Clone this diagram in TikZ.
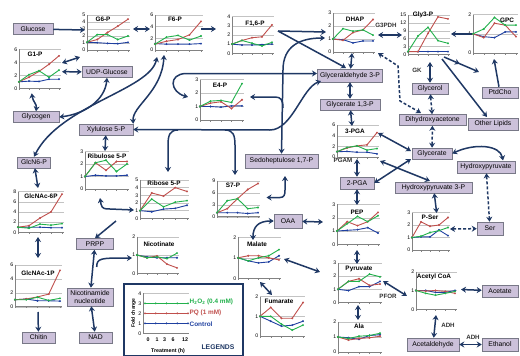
\documentclass[tikz,border=0pt]{standalone}
\usepackage{fontspec}
\setmainfont{Liberation Sans}
\usetikzlibrary{arrows.meta,decorations.markings}
\definecolor{boxf}{RGB}{204,193,218}
\definecolor{boxb}{RGB}{120,120,135}
\definecolor{arr}{RGB}{31,56,100}
\definecolor{cg}{RGB}{34,177,76}
\definecolor{cr}{RGB}{192,80,77}
\definecolor{cb}{RGB}{31,64,160}
\definecolor{gridc}{RGB}{195,195,195}
\definecolor{axc}{RGB}{130,130,130}
\tikzset{
 box/.style={draw=boxb, fill=boxf, line width=0.5pt, font=\fontsize{6.8}{7.4}\selectfont, inner sep=0.5pt, align=center, minimum height=11pt},
 dbl/.style={draw=arr, line width=1.5pt, {Stealth[length=5pt,width=6pt]}-{Stealth[length=5pt,width=6pt]}},
 sgl/.style={draw=arr, line width=1.5pt, -{Stealth[length=5pt,width=6pt]}},
 dsh/.style={dbl, dash pattern=on 3pt off 2pt},
 lab/.style={font=\fontsize{6.2}{6.5}\selectfont\bfseries, text=black!80, inner sep=0.5pt},
 ctitle/.style={font=\fontsize{6.4}{7}\selectfont\bfseries, inner sep=0pt},
 ticklab/.style={font=\fontsize{5.2}{5.5}\selectfont, inner sep=0.6pt, anchor=east, xshift=-1pt},
 ser/.style={line width=0.9pt, mark=*, mark size=0.8pt, mark options={line width=0.3pt}},
 midarr/.style={postaction={decorate, decoration={markings, mark=at position 0.45 with {\arrow{Stealth[length=5pt,width=6pt]}}}}},
}
% x0, y0, dx, k, ymax, step, red, green, blue
\newcommand\mchart[9]{%
 \begin{scope}[shift={(#1,#2)},x=#3pt,y=#4pt]
 \foreach \t in {0,#6,...,#5}{\draw[gridc,line width=0.4pt] (0,\t) -- (4.2,\t); \node[ticklab] at (0,\t) {\t};}
 \draw[axc,line width=0.5pt] (0,#5) -- (0,0) -- (4.2,0);
 \foreach \i in {0,...,4}{\draw[axc,line width=0.4pt] (\i,0) -- ++(0pt,-1.5pt);}
 \draw[ser,cb] plot coordinates {#9};
 \draw[ser,cr] plot coordinates {#7};
 \draw[ser,cg] plot coordinates {#8};
 \end{scope}}
\begin{document}
\begin{tikzpicture}[x=1pt,y=-1pt]
\useasboundingbox (0,0) rectangle (520,356);
\fill[white] (0,0) rectangle (520,356);

% ---------- charts ----------
\mchart{87}{50}{10.25}{7}{5}{1}{(0,1.1)(1,1.5)(2,2.5)(3,3.4)(4,4.4)}{(0,1.1)(1,2.2)(2,2.2)(3,1.5)(4,2.0)}{(0,1.1)(1,1.05)(2,0.95)(3,0.9)(4,1.1)}
\node[ctitle] (tg6p) at (103,19) {G6-P};
\mchart{155}{50}{11.5}{5.83}{6}{2}{(0,1)(1,1.5)(2,1.8)(3,2.6)(4,4.9)}{(0,1)(1,2.2)(2,2.5)(3,1.7)(4,2.4)}{(0,1.1)(1,1)(2,1)(3,1)(4,1.1)}
\node[ctitle] (tf6p) at (175,19) {F6-P};
\mchart{232}{53.3}{10}{9.17}{4}{1}{(0,1)(1,1.4)(2,1.7)(3,1.8)(4,3.1)}{(0,1)(1,1.4)(2,1.1)(3,0.8)(4,1.2)}{(0,1)(1,0.9)(2,0.9)(3,0.95)(4,1)}
\node[ctitle] (tf16) at (255,24) {F1,6-P};
\mchart{333}{52}{10}{13}{3}{1}{(0,1)(1,0.9)(2,1.5)(3,1.7)(4,2.5)}{(0,1)(1,1.8)(2,1.6)(3,1.7)(4,1.3)}{(0,1)(1,0.95)(2,0.7)(3,0.85)(4,0.85)}
\node[ctitle] (tdhap) at (355,19) {DHAP};
\mchart{408}{54.3}{10}{2.62}{15}{3}{(0,1)(1,1)(2,8)(3,14.3)(4,13.5)}{(0,1)(1,7)(2,10.3)(3,5.2)(4,4.2)}{(0,1)(1,1)(2,1)(3,1)(4,1)}
\node[ctitle] (tgly3p) at (423,15) {Gly3-P};
\mchart{473}{53}{10.75}{19.2}{2}{1}{(0,1)(1,0.8)(2,1.55)(3,1.45)(4,0.85)}{(0,1)(1,1.25)(2,1.85)(3,1.45)(4,1.45)}{(0,1)(1,0.85)(2,0.8)(3,1.1)(4,1.1)}
\node[ctitle] (tgpc) at (507,20) {GPC};
\mchart{19}{88.3}{10}{6.5}{6}{2}{(0,1)(1,1.7)(2,2.6)(3,3.7)(4,5)}{(0,1)(1,2.1)(2,2.7)(3,1.7)(4,2.8)}{(0,1)(1,1.1)(2,1.05)(3,1.4)(4,1.4)}
\node[ctitle] (tg1p) at (35,54) {G1-P};
\mchart{200}{120}{10.5}{13.5}{3}{1}{(0,1)(1,1.25)(2,1.35)(3,0.85)(4,1.5)}{(0,1)(1,1.4)(2,1.45)(3,1.3)(4,2.7)}{(0,1)(1,1)(2,0.95)(3,1.05)(4,1.05)}
\node[ctitle] (te4p) at (220,85) {E4-P};
\mchart{85}{189}{10.5}{12.5}{3}{1}{(0,1)(1,2.1)(2,1.5)(3,2.2)(4,2.2)}{(0,1)(1,2.1)(2,2.3)(3,1.4)(4,2.0)}{(0,1)(1,1.1)(2,1.05)(3,1.05)(4,1.1)}
\node[ctitle] (tru5p) at (107,156) {Ribulose 5-P};
\mchart{18}{232.3}{11}{5.1}{8}{2}{(0,1)(1,1.3)(2,2.8)(3,4)(4,7.5)}{(0,1)(1,0.8)(2,1.6)(3,1.4)(4,1.7)}{(0,1)(1,1)(2,1)(3,0.9)(4,0.9)}
\node[ctitle] (tnac6) at (41,196) {GlcNAc-6P};
\mchart{140}{218.3}{11.75}{7.67}{5}{1}{(0,1)(1,3.3)(2,2.9)(3,4)(4,3.5)}{(0,1)(1,2.5)(2,1.5)(3,2.1)(4,2.3)}{(0,1)(1,0.85)(2,1.2)(3,1.3)(4,1.7)}
\node[ctitle] (tr5p) at (164,183) {Ribose 5-P};
\mchart{217}{216.7}{10.25}{4}{9}{3}{(0,1)(1,2)(2,4.5)(3,6.8)(4,8.3)}{(0,1)(1,4)(2,4.5)(3,2)(4,2.3)}{(0,1)(1,1)(2,1)(3,0.8)(4,1)}
\node[ctitle] (ts7p) at (233,185) {S7-P};
\mchart{337}{157}{10}{5.3}{6}{2}{(0,1)(1,1.7)(2,2.1)(3,2.3)(4,4.6)}{(0,1)(1,1.8)(2,2.1)(3,1.3)(4,1.6)}{(0,1)(1,1.05)(2,0.9)(3,0.9)(4,0.6)}
\node[ctitle] (tpga3) at (355,131) {3-PGA};
\mchart{337}{244.3}{10.25}{13.3}{3}{1}{(0,1)(1,1.7)(2,1.4)(3,1.7)(4,2.4)}{(0,1)(1,1.55)(2,2.1)(3,1.7)(4,2.15)}{(0,1)(1,1.05)(2,1.1)(3,1.25)(4,0.85)}
\node[ctitle] (tpep) at (357,212) {PEP};
\mchart{338}{302.5}{10.5}{13.2}{3}{1}{(0,1)(1,1.6)(2,1.8)(3,1.3)(4,1.4)}{(0,1)(1,1.6)(2,1.6)(3,2.15)(4,1.95)}{(0,1)(1,0.9)(2,1.2)(3,1.2)(4,1.6)}
\node[ctitle] (tpyr) at (359,269) {Pyruvate};
\mchart{338}{352}{10.5}{15}{2}{1}{(0,1)(1,0.8)(2,0.9)(3,0.95)(4,1.05)}{(0,1)(1,0.9)(2,1.05)(3,1.1)(4,1.25)}{(0,1)(1,0.95)(2,0.85)(3,1.1)(4,1.15)}
\node[ctitle] (tala) at (359,326) {Ala};
\mchart{412}{250}{9}{12.5}{3}{1}{(0,1)(1,2.25)(2,1.9)(3,2)(4,2.6)}{(0,1)(1,1.1)(2,1.4)(3,1.55)(4,1.8)}{(0,1)(1,1.05)(2,1.05)(3,1.6)(4,1.15)}
\node[ctitle] (tpser) at (430,217) {P-Ser};
\mchart{416}{309.3}{9.75}{18.8}{2}{1}{(0,1)(1,0.97)(2,1)(3,0.95)(4,0.85)}{(0,1)(1,0.85)(2,0.75)(3,0.85)(4,0.95)}{(0,1)(1,1)(2,0.9)(3,0.9)(4,1)}
\node[ctitle] (tacoa) at (434,277) {Acetyl CoA};
\mchart{137}{273.3}{10}{18.3}{2}{1}{(0,1)(1,0.85)(2,0.95)(3,0.5)(4,0.3)}{(0,1)(1,0.85)(2,0.9)(3,0.8)(4,1.1)}{(0,1)(1,0.9)(2,0.85)(3,0.85)(4,0.85)}
\node[ctitle] (tnic) at (159,244) {Nicotinate};
\mchart{15}{306.7}{11.25}{7}{6}{2}{(0,1)(1,1.1)(2,1.4)(3,1.8)(4,5.2)}{(0,1)(1,1)(2,1.35)(3,0.9)(4,1.2)}{(0,1)(1,1.1)(2,0.85)(3,0.85)(4,0.8)}
\node[ctitle] (tnac1) at (38,273) {GlcNAc-1P};
\mchart{238}{278.3}{10.25}{20.5}{2}{1}{(0,1)(1,1.1)(2,1.1)(3,1)(4,0.9)}{(0,1)(1,0.85)(2,1)(3,1.1)(4,1.4)}{(0,1)(1,0.85)(2,0.75)(3,0.8)(4,1.1)}
\node[ctitle] (tmal) at (257,244) {Malate};
\mchart{260}{336}{10.75}{19.7}{2}{1}{(0,1)(1,1.45)(2,0.9)(3,0.9)(4,1.7)}{(0,1)(1,1)(2,0.6)(3,0.3)(4,0.55)}{(0,1)(1,0.75)(2,0.5)(3,0.55)(4,0.75)}
\node[ctitle] (tfum) at (279,301) {Fumarate};

% ---------- boxes ----------
\node[box,minimum width=40pt] (glucose) at (33,29) {Glucose};
\node[box,minimum width=50pt] (udp) at (107,72) {UDP-Glucose};
\node[box,minimum width=46pt] (glycogen) at (36,117) {Glycogen};
\node[box,minimum width=54pt] (xyl) at (106,129.5) {Xylulose 5-P};
\node[box,minimum width=33pt] (glcn) at (34,162.5) {GlcN6-P};
\node[box,minimum width=37pt] (prpp) at (95,244) {PRPP};
\node[box,minimum width=46pt,minimum height=18pt] (nn) at (90,297) {Nicotinamide\\nucleotide};
\node[box,minimum width=33pt] (nad) at (95.5,337.5) {NAD};
\node[box,minimum width=33pt] (chitin) at (38.5,337.5) {Chitin};
\node[box,minimum width=73pt,minimum height=14pt] (sedo) at (281.5,161) {Sedoheptulose 1,7-P};
\node[box,minimum width=28pt,minimum height=14pt] (oaa) at (288,221) {OAA};
\node[box,minimum width=65pt,minimum height=13pt] (gap) at (350,75.5) {Glyceraldehyde 3-P};
\node[box,minimum width=60pt] (bpg) at (350,104.5) {Glycerate 1,3-P};
\node[box,minimum width=36pt] (glycerol) at (430,88.5) {Glycerol};
\node[box,minimum width=36pt] (ptdcho) at (500,92.5) {PtdCho};
\node[box,minimum width=67pt] (dha) at (432.5,120) {Dihydroxyacetone};
\node[box,minimum width=50pt,minimum height=12pt] (lipids) at (493,124) {Other Lipids};
\node[box,minimum width=40pt] (glycerate) at (432,153.5) {Glycerate};
\node[box,minimum width=58pt,minimum height=12pt] (hp) at (486,167) {Hydroxypyruvate};
\node[box,minimum width=34pt,minimum height=12pt] (pga2) at (357,183) {2-PGA};
\node[box,minimum width=77pt] (hp3) at (433.5,187.5) {Hydroxypyruvate 3-P};
\node[box,minimum width=26pt,minimum height=13pt] (ser) at (490,228.5) {Ser};
\node[box,minimum width=36pt,minimum height=12pt] (acetate) at (500,291) {Acetate};
\node[box,minimum width=52pt,minimum height=13pt] (acald) at (433,344.5) {Acetaldehyde};
\node[box,minimum width=36pt,minimum height=13pt] (ethanol) at (500,344.5) {Ethanol};

% ---------- enzyme labels ----------
\node[lab] (lg3pdh) at (386,25) {G3PDH};
\node[lab] (lgk) at (417,70) {GK};
\node[lab] (lpgam) at (343,160) {PGAM};
\node[lab] (lpfor) at (388,296) {PFOR};
\node[lab] (ladh1) at (448,325) {ADH};
\node[lab] (ladh2) at (473,337) {ADH};

% ---------- anchor coordinates on charts ----------
\coordinate (g6in) at (85,30);
\coordinate (g6r) at (133,29);
\coordinate (f6l) at (150,29);
\coordinate (f6r) at (201,29);
\coordinate (f16l) at (216,29);
\coordinate (f16r) at (278,31);
\coordinate (dhapl) at (326,32);
\coordinate (dhapl2) at (325,38);
\coordinate (gapin) at (346,68);
\coordinate (dhapr) at (378,35);
\coordinate (gly3l) at (402,35);
\coordinate (gly3r) at (451,34);
\coordinate (gpcl) at (472,34);
\coordinate (gpcb) at (494,59);
\coordinate (gly3b) at (430,62);
\coordinate (gly3br) at (444,57);
\coordinate (gly3br2) at (442,59);
\coordinate (ptdin) at (479,72);
\coordinate (lipin) at (487,117);
\coordinate (dhapb) at (378,53);
\coordinate (dhaps) at (352,53);
\coordinate (pga3t) at (352,126);
\coordinate (pga3b) at (357,159);
\coordinate (pept) at (357,205);
\coordinate (pepb) at (357,250);
\coordinate (pyrt) at (357,264);
\coordinate (pyrb) at (358,305);
\coordinate (alat) at (358,320);
\coordinate (pyrr) at (383,281);
\coordinate (acoal) at (407,296);
\coordinate (acoar) at (461,289.5);
\coordinate (acoab) at (436,315);
\coordinate (pga3r) at (378,133);
\coordinate (pga3r2) at (380,161);
\coordinate (gtl) at (411,151);
\coordinate (gtl2) at (411,159);
\coordinate (hp3in) at (430,181);
\coordinate (psert) at (436.7,213);
\coordinate (pserr) at (450,229);
\coordinate (pepl) at (323,222);
\coordinate (malr) at (284,259);
\coordinate (pyrl) at (320,272);
\coordinate (malt) at (253,240);
\coordinate (malb) at (260,282);
\coordinate (fumt) at (272,295);
\coordinate (s7r) at (266.5,197.5);
\coordinate (ru5t) at (105,151);
\coordinate (ru5b) at (100,198);
\coordinate (r5l) at (134,210);
\coordinate (nac6t) at (38,188);
\coordinate (nac6b) at (38,237);
\coordinate (nac1t) at (38,258);
\coordinate (nac1b) at (38,312);
\coordinate (nicl) at (132,258);
\coordinate (nnbr) at (96.7,267);
\coordinate (r5bl) at (116,221);
\coordinate (g6bl) at (80,57);
\coordinate (g1r) at (62,63);
\coordinate (g1r2) at (62,71.7);
\coordinate (g1b) at (31.7,93.3);
\coordinate (f6b1) at (157,57);
\coordinate (f6b2) at (164,55);
\coordinate (e4l) at (188,97);
\coordinate (e4r) at (250,97);
\coordinate (r5t) at (168,172);
\coordinate (s7t) at (235,175);
\coordinate (gapl) at (317,73.5);
\coordinate (gapbl) at (321,81);
\coordinate (xjn) at (270,130);

% ---------- connectors ----------
\draw[sgl] (glucose) -- (g6in);
\draw[dbl] (g6r) -- (f6l);
\draw[sgl] (f6r) -- (f16l);
\draw[sgl] (f16r) -- (dhapl);
\draw[sgl] (f16r) -- (gapin);
\draw[dbl] (dhapr) -- (gly3l);
\draw[sgl] (gpcl) -- (gly3r);
\draw[sgl] (ptdcho) -- (gpcb);
\draw[dbl] (gly3b) -- (glycerol);
\draw[sgl,midarr] (gly3br) -- (ptdin);
\draw[sgl] (gly3br2) -- (lipin);
\draw[dsh] (glycerol) -- (dha);
\draw[dsh] (dhapb) -- (398,66) -- (400,101) -- (421,113);
\draw[dbl] (dhaps) -- (gap);
\draw[dbl] (gap) -- (bpg);
\draw[dbl] (bpg) -- (pga3t);
\draw[dbl] (pga3b) -- (pga2);
\draw[dbl] (pga2) -- (pept);
\draw[dbl] (pepb) -- (pyrt);
\draw[dbl] (pyrb) -- (alat);
\draw[dbl] (pyrr) -- (acoal);
\draw[dbl] (acoar) -- (acetate);
\draw[dbl] (acoab) -- (acald);
\draw[dbl] (acald) -- (ethanol);
\draw[dbl] (pga3r) -- (gtl);
\draw[dbl] (pga2.east) -- (gtl2);
\draw[dbl] (pga3r2) -- (hp3in);
\draw[dsh] (glycerate) -- (dha);
\draw[dbl] (glycerate.east) .. controls (475,143) and (500,145) .. (503,160.5);
\draw[dsh] (hp) -- (ser);
\draw[dbl] (hp3) -- (psert);
\draw[dsh] (pserr) -- (ser);
\draw[dbl] (oaa) -- (pepl);
\draw[dbl] (malr) -- (pyrl);
\draw[dbl] (oaa.west) .. controls (258,221) and (253,227) .. (malt);
\draw[dbl] (malb) -- (fumt);
\draw[dbl] (s7r) -- (280,197.5) .. controls (284,197.5) and (285,195) .. (285,190) -- (285,176);
\draw[dbl] (xyl) -- (ru5t);
\draw[dbl] (glcn) -- (nac6t);
\draw[dbl] (nac6b) -- (nac1t);
\draw[sgl] (nac1b) -- (chitin);
\draw[dbl] (prpp) -- (nn);
\draw[dbl] (nn) -- (nad);
\draw[sgl] (nnbr) .. controls (97,258) and (100,258) .. (nicl);
\draw[sgl] (r5bl) -- (prpp.north);
\draw[dbl] (ru5b) -- (101,204) .. controls (102,209) and (105,209) .. (110,209) -- (r5l);
\draw[dbl] (g6bl) -- (g1r);
\draw[dbl] (g1r2) -- (udp);
\draw[dbl] (g1b) .. controls (33,102) and (37,104) .. (glycogen.north);
\draw[dbl] (udp.south) .. controls (105,100) and (85,114) .. (glycogen.east);
% pentose phosphate network
\draw[dbl] (f6b1) .. controls (150,90) and (60,105) .. (glcn.north);
\draw[dbl] (f6b2) .. controls (162,92) and (132,106) .. (xyl.north east);
\draw[dbl] (e4l) .. controls (170,92) and (168,74) .. (186,73.5) -- (gapl);
\draw[sgl] (xjn) -- (xyl.east);
\draw[sgl] (xjn) .. controls (292,130) and (302,88) .. (gapbl);
\draw[sgl] (178,130) .. controls (170,130) and (168,135) .. (168,145) -- (r5t);
\draw[sgl] (225,130) .. controls (233,130) and (235,135) .. (235,145) -- (s7t);
\draw[dbl] (sedo.north) -- (283,70) .. controls (283,46) and (300,38) .. (dhapl2);
\draw[sgl] (283,108) .. controls (283,100) and (281,97) .. (275,97) -- (e4r);

% ---------- legend ----------
\draw[arr, line width=2.2pt] (124,284) rectangle (243,356);
\foreach \t in {0,...,4}{\draw[gridc,line width=0.4pt] (143,{333.3-10*\t}) -- (189,{333.3-10*\t}); \node[ticklab] at (143,{333.3-10*\t}) {\t};}
\draw[axc,line width=0.5pt] (143,293.3) -- (143,333.3) -- (189,333.3);
\draw[ser,cg] plot coordinates {(145,303.3)(155.75,303.3)(166.5,303.3)(177.25,303.3)(188,303.3)};
\draw[ser,cr] plot coordinates {(145,313.3)(155.75,313.3)(166.5,313.3)(177.25,313.3)(188,313.3)};
\draw[ser,cb] plot coordinates {(145,323.3)(155.75,323.3)(166.5,323.3)(177.25,323.3)(188,323.3)};
\node[font=\fontsize{5}{5.5}\selectfont\bfseries, rotate=90] (fold) at (133.5,313) {Fold change};
\foreach \lx/\lt in {148/0,157/1,164.5/3,173/6,185/12}{\node[font=\fontsize{5.3}{5.5}\selectfont\bfseries, inner sep=0pt] at (\lx,340) {\lt};}
\node[font=\fontsize{5.3}{5.5}\selectfont\bfseries] (treat) at (168,351) {Treatment (h)};
\node[anchor=west, text=cg, font=\fontsize{6.4}{6.8}\selectfont\bfseries, inner sep=0pt] (lh) at (189.5,302) {H\textsubscript{2}O\textsubscript{2} (0.4 mM)};
\node[anchor=west, text=cr, font=\fontsize{6.4}{6.8}\selectfont\bfseries, inner sep=0pt] (lpq) at (189.5,313) {PQ (1 mM)};
\node[anchor=west, text=cb, font=\fontsize{6.4}{6.8}\selectfont\bfseries, inner sep=0pt] (lc) at (189.5,324) {Control};
\node[font=\fontsize{6.8}{7}\selectfont\bfseries, text=arr, inner sep=0pt] (lleg) at (218,347) {LEGENDS};
\end{tikzpicture}
\end{document}
